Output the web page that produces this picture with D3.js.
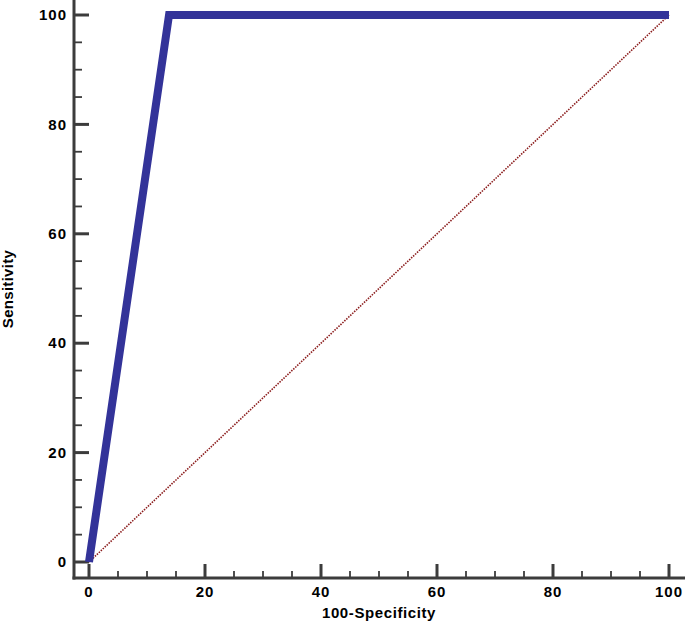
<!DOCTYPE html>
<html>
<head>
<meta charset="utf-8">
<script src="https://cdn.jsdelivr.net/npm/d3@7"></script>
<style>
html,body{margin:0;padding:0;background:#fff;}
svg{display:block;}
text{font-family:"Liberation Sans",Arial,Helvetica,sans-serif;font-weight:bold;fill:#000;}
</style>
</head>
<body>
<svg id="chart" width="685" height="622"></svg>
<script>
// Data
const rocX = [0, 13.8, 100];
const rocY = [0, 100, 100];
const refX = [0, 100];
const refY = [0, 100];
const xTicks = [0, 20, 40, 60, 80, 100];
const yTicks = [0, 20, 40, 60, 80, 100];
const xTitle = "100-Specificity";
const yTitle = "Sensitivity";

const svg = d3.select("#chart");
const x = d3.scaleLinear().domain([0, 100]).range([89, 669]);
const y = d3.scaleLinear().domain([0, 100]).range([562, 15]);
const axisX = 74, axisY = 578;
const axisColor = "#3c3c3c";

// minor ticks
const minor = d3.range(0, 101, 5).filter(v => v % 20 !== 0);

// Axis lines
svg.append("line").attr("x1", axisX).attr("x2", axisX).attr("y1", 0).attr("y2", axisY + 1.5)
  .attr("stroke", axisColor).attr("stroke-width", 3);
svg.append("line").attr("x1", axisX - 1.5).attr("x2", 685).attr("y1", axisY).attr("y2", axisY)
  .attr("stroke", axisColor).attr("stroke-width", 3);

// X ticks
svg.selectAll(".xmaj").data(xTicks).enter().append("line")
  .attr("x1", d => x(d)).attr("x2", d => x(d)).attr("y1", axisY).attr("y2", axisY - 14)
  .attr("stroke", axisColor).attr("stroke-width", 3);
svg.selectAll(".xmin").data(minor).enter().append("line")
  .attr("x1", d => x(d)).attr("x2", d => x(d)).attr("y1", axisY).attr("y2", axisY - 7)
  .attr("stroke", axisColor).attr("stroke-width", 1.8);
svg.selectAll(".xlab").data(xTicks).enter().append("text")
  .attr("x", d => x(d)).attr("y", 592).attr("dy", "0.35em")
  .attr("text-anchor", "middle").attr("font-size", 15).attr("letter-spacing", 1).text(d => d);

// Y ticks
svg.selectAll(".ymaj").data(yTicks).enter().append("line")
  .attr("x1", axisX).attr("x2", axisX + 15).attr("y1", d => y(d)).attr("y2", d => y(d))
  .attr("stroke", axisColor).attr("stroke-width", 3);
svg.selectAll(".ymin").data(minor).enter().append("line")
  .attr("x1", axisX).attr("x2", axisX + 8).attr("y1", d => y(d)).attr("y2", d => y(d))
  .attr("stroke", axisColor).attr("stroke-width", 1.8);
svg.selectAll(".ylab").data(yTicks).enter().append("text")
  .attr("x", 67).attr("y", d => y(d)).attr("dy", "0.35em")
  .attr("text-anchor", "end").attr("font-size", 15).attr("letter-spacing", 1).text(d => d);

// Titles
svg.append("text").attr("x", 379).attr("y", 613).attr("dy", "0.35em")
  .attr("text-anchor", "middle").attr("font-size", 15).attr("letter-spacing", 0.6).text(xTitle);
svg.append("text").attr("transform", "translate(8,289) rotate(-90)").attr("dy", "0.35em")
  .attr("text-anchor", "middle").attr("font-size", 15).attr("letter-spacing", 0.3).text(yTitle);

const line = d3.line().x(d => x(d[0])).y(d => y(d[1]));

// Reference diagonal
svg.append("path").datum(refX.map((v, i) => [v, refY[i]]))
  .attr("d", line).attr("fill", "none").attr("stroke", "#8b1c1c")
  .attr("stroke-width", 1.6).attr("stroke-dasharray", "1.5,1.2");

// ROC curve
svg.append("path").datum(rocX.map((v, i) => [v, rocY[i]]))
  .attr("d", line).attr("fill", "none").attr("stroke", "#333399")
  .attr("stroke-width", 8).attr("stroke-linejoin", "miter").attr("stroke-linecap", "butt");
</script>
</body>
</html>
